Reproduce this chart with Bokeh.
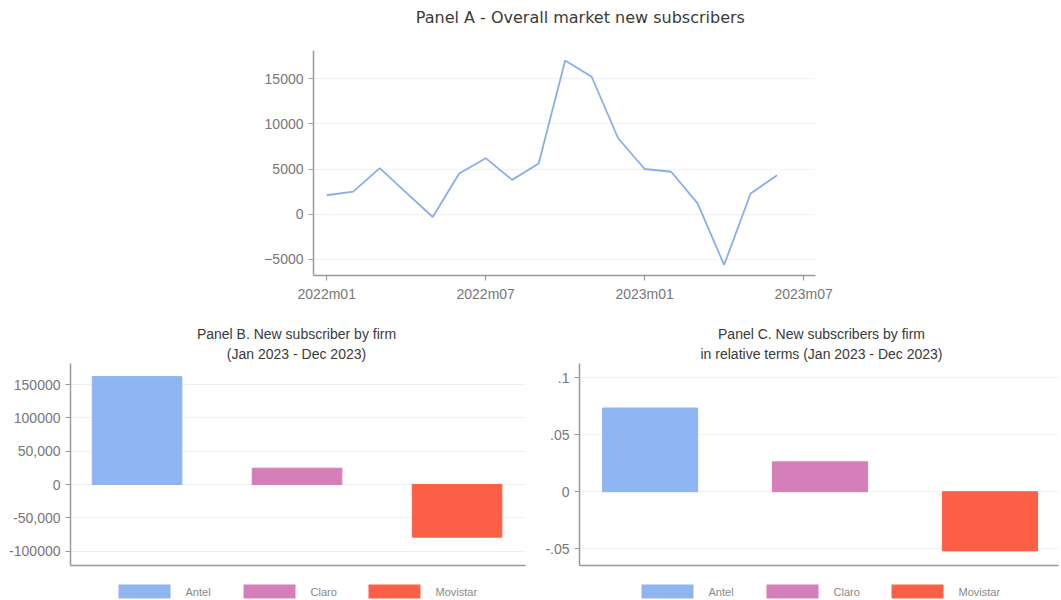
from bokeh.plotting import figure
from bokeh.layouts import column, row
from bokeh.models import ColumnDataSource, FixedTicker, Range1d
from bokeh.core.properties import value
from bokeh.embed import file_html
from bokeh.resources import INLINE

# ---------------- data ----------------
months = ["2022m01", "2022m02", "2022m03", "2022m04", "2022m05", "2022m06",
          "2022m07", "2022m08", "2022m09", "2022m10", "2022m11", "2022m12",
          "2023m01", "2023m02", "2023m03", "2023m04", "2023m05", "2023m06"]
new_subs = [2100, 2500, 5100, 2400, -300, 4500, 6200, 3800, 5600,
            17000, 15200, 8400, 5000, 4700, 1200, -5600, 2300, 4300]
a_xtick_labels = ["2022m01", "2022m07", "2023m01", "2023m07"]
a_yticks = [-5000, 0, 5000, 10000, 15000]

firms = ["Antel", "Claro", "Movistar"]
firm_colors = ["#8fb4f2", "#d57fba", "#fb6046"]
new_by_firm = [162000, 24500, -79000]
rel_by_firm = [0.0733, 0.0262, -0.0518]

b_yticks = [-100000, -50000, 0, 50000, 100000, 150000]
b_ytick_labels = ["-100000", "-50,000", "0", "50,000", "100000", "150000"]
c_yticks = [-0.05, 0, 0.05, 0.1]
c_ytick_labels = ["-.05", "0", ".05", ".1"]

title_a = "Panel A - Overall market new subscribers"
title_b = ["Panel B. New subscriber by firm", "(Jan 2023 - Dec 2023)"]
title_c = ["Panel C. New subscribers by firm", "in relative terms (Jan 2023 - Dec 2023)"]

# ---------------- style ----------------
AXIS_COL = "#999999"
LABEL_COL = "#777777"
TITLE_COL = "#3a3a3a"
GRID_COL = "#eef1f5"
FONT = "Liberation Sans"


def base_style(p):
    p.background_fill_color = "white"
    p.border_fill_color = "white"
    p.outline_line_color = None
    p.xgrid.visible = False
    p.ygrid.grid_line_color = GRID_COL
    p.ygrid.grid_line_width = 1
    for ax in (p.xaxis, p.yaxis):
        ax.axis_line_color = AXIS_COL
        ax.axis_line_width = 1.5
        ax.major_tick_line_color = AXIS_COL
        ax.major_tick_line_width = 1.2
        ax.major_tick_out = 5
        ax.major_tick_in = 0
        ax.minor_tick_line_color = None
        ax.major_label_text_color = LABEL_COL
        ax.major_label_text_font = FONT
        ax.major_label_text_font_size = "14px"
        ax.major_label_standoff = 5


def strip(width, height):
    s = figure(width=width, height=height, output_backend="svg", toolbar_location=None,
               x_range=Range1d(0, width), y_range=Range1d(0, height),
               x_axis_location=None, y_axis_location=None, min_border=0, title=None)
    s.outline_line_color = None
    s.background_fill_color = "white"
    s.border_fill_color = "white"
    s.xgrid.visible = False
    s.ygrid.visible = False
    s.grid.grid_line_color = None
    return s


def title_strip(width, height, lines, cx, ys, font, size):
    s = strip(width, height)
    s.text(x=[cx] * len(lines), y=[height - y for y in ys], text=lines,
           text_font=value(font), text_font_size=value(size), text_color=TITLE_COL,
           text_align="center", text_baseline="middle")
    return s


def legend_strip(width, height, start, y_from_top):
    s = strip(width, height)
    sw, sh, standoff, step = 52, 14, 15, 125
    lefts = [start + i * step for i in range(len(firms))]
    yy = height - y_from_top
    s.rect(x=[l + sw / 2 for l in lefts], y=[yy] * len(firms), width=sw, height=sh,
           fill_color=firm_colors, line_color=None)
    s.text(x=[l + sw + standoff for l in lefts], y=[yy] * len(firms), text=firms,
           text_font=value(FONT), text_font_size=value("11px"), text_color="#888888",
           text_align="left", text_baseline="middle")
    return s


# ---------------- Panel A ----------------
A_LEFT, A_FRAME_W = 313, 502
sa = title_strip(1061, 50, [title_a], A_LEFT + A_FRAME_W / 2, [17], "DejaVu Sans", "16px")

xa = list(range(len(months)))
pa = figure(width=1061, height=255, output_backend="svg", toolbar_location=None,
            x_range=Range1d(-0.5, 18.45), y_range=Range1d(-6770, 18100),
            min_border_left=A_LEFT, min_border_right=1061 - A_LEFT - A_FRAME_W, min_border_top=0,
            min_border_bottom=30, title=None)
base_style(pa)
pa.line(xa, new_subs, line_color="#8aaee9", line_width=1.8)
pa.xaxis.ticker = FixedTicker(ticks=[0, 6, 12, 18])
pa.xaxis.major_label_overrides = {t: l for t, l in zip([0, 6, 12, 18], a_xtick_labels)}
pa.yaxis.ticker = FixedTicker(ticks=a_yticks)


def bar_panel(values, yr, ticks, tick_labels, width, border_left, border_right, xr):
    p = figure(width=width, height=212, output_backend="svg", toolbar_location=None,
               x_range=Range1d(*xr), y_range=Range1d(*yr),
               min_border_left=border_left, min_border_right=border_right, min_border_top=0,
               min_border_bottom=10, title=None)
    base_style(p)
    src = ColumnDataSource(dict(x=[1, 2, 3], top=values, color=firm_colors))
    p.vbar(x="x", top="top", bottom=0, width=0.56, color="color", source=src)
    p.xaxis.ticker = FixedTicker(ticks=[1, 2, 3])
    p.xaxis.major_label_overrides = {1: " ", 2: " ", 3: " "}
    p.xaxis.major_label_text_font_size = "1px"
    p.xaxis.major_tick_line_color = None
    p.xaxis.major_tick_out = 0
    p.xaxis.major_label_standoff = 0
    p.yaxis.ticker = FixedTicker(ticks=ticks)
    p.yaxis.major_label_overrides = {t: l for t, l in zip(ticks, tick_labels)}
    return p


tb = title_strip(535, 58, title_b, 296, [28, 48], FONT, "14px")
tc = title_strip(526, 58, title_c, 286, [28, 48], FONT, "14px")

pb = bar_panel(new_by_firm, (-121600, 181700), b_yticks, b_ytick_labels,
               535, 70, 10, (0.584, 3.428))
pc = bar_panel(rel_by_firm, (-0.0646, 0.1123), c_yticks, c_ytick_labels,
               526, 44, 3, (0.585, 3.403))

lb = legend_strip(535, 25, 118, 16)
lc = legend_strip(526, 25, 106, 16)

layout = column(sa, pa, row(tb, tc), row(pb, pc), row(lb, lc))
open("out.html", "w").write(file_html(layout, INLINE))
